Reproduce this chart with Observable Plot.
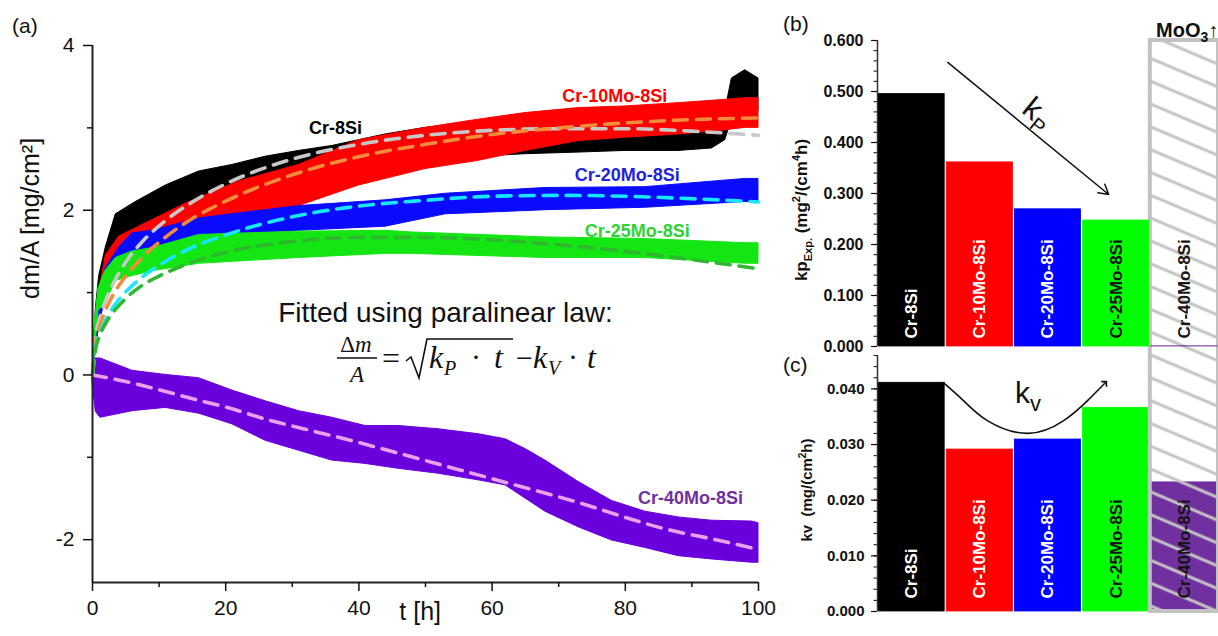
<!DOCTYPE html>
<html><head><meta charset="utf-8">
<script src="https://cdn.jsdelivr.net/npm/d3@7"></script>
<script src="https://cdn.jsdelivr.net/npm/@observablehq/plot@0.6"></script>
<style>
html,body{margin:0;padding:0;background:#fff;}
#wrap{position:relative;width:1218px;height:636px;overflow:hidden;background:#fff;}
#wrap svg{position:absolute;top:0;}
</style></head><body><div id="wrap"></div>
<script>
const FONT = '"Liberation Sans", Arimo, Arial, sans-serif';
const SERIF = '"Liberation Serif", "DejaVu Serif", serif';

// ---------- Panel (a): mass change vs time ----------
const timeTicks = [0, 20, 40, 60, 80, 100];
const timeMinor = [10, 30, 50, 70, 90];
const massTicks = [-2, 0, 2, 4];
const massMinor = [-1, 1, 3];
const massDomain = [-2.52, 4];

// measured curves: band of the noisy signal (lower / upper edge)
const tCr8Si  = [0, 0.5, 1, 2, 3.5, 6.5, 11, 16, 21, 26, 31, 36, 44, 50, 58, 65, 73, 80, 88, 93, 95, 96, 98, 100];
const loCr8Si = [0, 0.3, 0.7, 1.1, 1.45, 1.7, 1.9, 2.05, 2.2, 2.3, 2.4, 2.45, 2.55, 2.6, 2.65, 2.68, 2.7, 2.72, 2.72, 2.75, 2.85, 3.1, 3.2, 3.2];
const hiCr8Si = [0, 0.8, 1.2, 1.55, 1.95, 2.1, 2.3, 2.47, 2.55, 2.65, 2.72, 2.78, 2.92, 3.0, 3.05, 3.05, 3.05, 3.08, 3.1, 3.15, 3.2, 3.6, 3.7, 3.6];

const tCr10Mo  = [0, 0.5, 1, 2, 4, 9, 14, 22, 31, 40, 50, 58, 65, 73, 80, 88, 95, 98, 100];
const loCr10Mo = [0, 0.3, 0.6, 1.1, 1.35, 1.54, 1.72, 1.9, 2.05, 2.3, 2.5, 2.6, 2.72, 2.84, 2.88, 2.92, 2.97, 3.0, 3.0];
const hiCr10Mo = [0, 0.7, 1.0, 1.45, 1.68, 1.88, 2.08, 2.35, 2.55, 2.85, 3.0, 3.1, 3.18, 3.24, 3.26, 3.3, 3.34, 3.36, 3.36];

const tCr20Mo  = [0, 0.5, 1, 2, 4, 6, 9, 16, 31, 44, 53, 68, 83, 98, 100];
const loCr20Mo = [0, 0.3, 0.6, 0.95, 1.25, 1.4, 1.45, 1.58, 1.75, 1.8, 1.95, 2.0, 2.03, 2.1, 2.1];
const hiCr20Mo = [0, 0.7, 0.95, 1.3, 1.55, 1.72, 1.75, 1.9, 2.05, 2.12, 2.2, 2.27, 2.28, 2.38, 2.38];

const tCr25Mo  = [0, 0.3, 0.9, 1.9, 3.5, 6, 9, 16, 31, 44, 48, 68, 83, 98, 100];
const loCr25Mo = [0, 0.2, 0.78, 0.86, 1.14, 1.2, 1.26, 1.35, 1.42, 1.47, 1.47, 1.42, 1.42, 1.35, 1.35];
const hiCr25Mo = [0, 0.6, 1.05, 1.26, 1.42, 1.5, 1.54, 1.7, 1.74, 1.75, 1.73, 1.67, 1.65, 1.6, 1.6];

const tCr40Mo  = [0, 0.5, 1.2, 6, 11, 16, 21, 26, 31, 36, 41, 46, 52, 58, 62, 65, 68, 73, 78, 83, 88, 93, 99, 100];
const loCr40Mo = [-0.1, -0.45, -0.52, -0.44, -0.4, -0.47, -0.6, -0.8, -0.92, -1.04, -1.08, -1.14, -1.2, -1.28, -1.34, -1.5, -1.66, -1.85, -2.01, -2.1, -2.2, -2.24, -2.28, -2.28];
const hiCr40Mo = [0.1, 0.2, 0.2, 0.05, 0.0, -0.04, -0.19, -0.32, -0.44, -0.52, -0.62, -0.62, -0.66, -0.72, -0.78, -0.9, -1.04, -1.3, -1.53, -1.66, -1.73, -1.77, -1.78, -1.8];

// paralinear fits (dashed)
const fitT      = [0, 0.5, 1, 2, 3, 5, 7.5, 10, 15, 20, 30, 40, 50, 60, 70, 80, 90, 100];
const fitCr8Si  = [0, 0.48, 0.66, 0.91, 1.09, 1.37, 1.62, 1.81, 2.10, 2.32, 2.62, 2.80, 2.91, 2.97, 2.99, 2.99, 2.96, 2.91];
const fitCr10Mo = [0, 0.41, 0.57, 0.79, 0.96, 1.20, 1.43, 1.61, 1.90, 2.11, 2.43, 2.65, 2.80, 2.92, 3.00, 3.06, 3.10, 3.12];
const fitCr20Mo = [0, 0.35, 0.49, 0.67, 0.81, 1.01, 1.19, 1.33, 1.55, 1.70, 1.92, 2.05, 2.12, 2.17, 2.18, 2.17, 2.14, 2.10];
const fitCr25Mo = [0, 0.33, 0.46, 0.63, 0.75, 0.93, 1.09, 1.20, 1.37, 1.49, 1.62, 1.67, 1.67, 1.64, 1.58, 1.50, 1.40, 1.29];
const fitTCr40Mo = [0, 5, 10, 16, 20, 27, 30, 39, 45, 50, 55, 60, 65, 70, 75, 80, 87, 93, 100];
const fitCr40Mo  = [0, -0.08, -0.18, -0.31, -0.39, -0.56, -0.62, -0.80, -0.93, -1.04, -1.15, -1.26, -1.37, -1.48, -1.60, -1.73, -1.89, -1.99, -2.12];

// ---------- Panels (b), (c): rate constants ----------
const alloys = ["Cr-8Si", "Cr-10Mo-8Si", "Cr-20Mo-8Si", "Cr-25Mo-8Si", "Cr-40Mo-8Si"];
const kpExp  = [0.495, 0.361, 0.269, 0.247, 0.0004];
const kvExp  = [0.0411, 0.0291, 0.0309, 0.0366, 0.0232];
const kpTicks = [0, 0.1, 0.2, 0.3, 0.4, 0.5, 0.6];
const kvTicks = [0, 0.01, 0.02, 0.03, 0.04];
const kpDomain = [0, 0.6];
const kvDomain = [0, 0.046];
const barColors = ["#000000", "#ff0000", "#0000ff", "#00ff00", "#7030a0"];

const band = (t, lo, hi) => t.map((x, i) => ({t: x, lo: lo[i], hi: hi[i]}));
const series = (t, v) => t.map((x, i) => ({t: x, v: v[i]}));

function addT(svg, x, y, parts, o = {}) {
  const t = d3.select(svg).append("text")
    .attr("x", x).attr("y", y)
    .attr("font-family", o.family || FONT)
    .attr("font-size", o.size || 20)
    .attr("font-weight", o.weight || "normal")
    .attr("font-style", o.italic ? "italic" : "normal")
    .attr("fill", o.fill || "#111")
    .attr("text-anchor", o.anchor || "start");
  if (o.transform) t.attr("transform", o.transform);
  (typeof parts === "string" ? [[parts]] : parts).forEach(([s, a = {}]) => {
    const sp = t.append("tspan").text(s);
    for (const k in a) sp.attr(k, a[k]);
  });
  return t;
}

const areaOpts = c => ({x: "t", y1: "lo", y2: "hi", fill: c, stroke: c, strokeWidth: 1, curve: "linear"});
const fitOpts = c => ({x: "t", y: "v", stroke: c, strokeWidth: 3.6, strokeDasharray: "14 9", curve: "monotone-x"});
const lbl = (c) => ({fill: c, fontWeight: "bold", fontSize: 18});
const plainNum = d => String(d);

const pa = Plot.plot({
  width: 770, height: 636,
  marginLeft: 92, marginRight: 12, marginTop: 45, marginBottom: 54,
  x: {domain: [timeTicks[0], timeTicks[timeTicks.length - 1]]},
  y: {domain: massDomain},
  style: {fontFamily: FONT, fontSize: "20px", background: "transparent", overflow: "visible", color: "#111"},
  marks: [
    Plot.areaY(band(tCr40Mo, loCr40Mo, hiCr40Mo), areaOpts("#6a00dc")),
    Plot.areaY(band(tCr8Si, loCr8Si, hiCr8Si), areaOpts("#000000")),
    Plot.areaY(band(tCr10Mo, loCr10Mo, hiCr10Mo), areaOpts("#ff0000")),
    Plot.areaY(band(tCr20Mo, loCr20Mo, hiCr20Mo), areaOpts("#0a0aff")),
    Plot.areaY(band(tCr25Mo, loCr25Mo, hiCr25Mo), areaOpts("#14e614")),
    Plot.line(series(fitT, fitCr8Si), fitOpts("#c8c8c8")),
    Plot.line(series(fitT, fitCr10Mo), fitOpts("#f28c3c")),
    Plot.line(series(fitT, fitCr20Mo), fitOpts("#19e6ff")),
    Plot.line(series(fitT, fitCr25Mo), fitOpts("#2db82d")),
    Plot.line(series(fitTCr40Mo, fitCr40Mo), fitOpts("#e8a2ec")),
    Plot.ruleX([timeTicks[0]], {strokeWidth: 2, stroke: "#222"}),
    Plot.ruleY([massDomain[0]], {strokeWidth: 2, stroke: "#222"}),
    Plot.axisX({ticks: timeMinor, tickSize: 5, tickFormat: () => "", strokeWidth: 1.5, label: null}),
    Plot.axisX({ticks: timeTicks, tickSize: 9, tickPadding: 9, tickFormat: plainNum, strokeWidth: 1.5, label: null, fontSize: 21}),
    Plot.axisY({ticks: massMinor, tickSize: 5, tickFormat: () => "", strokeWidth: 1.5, label: null}),
    Plot.axisY({ticks: massTicks, tickSize: 9, tickPadding: 9, tickFormat: plainNum, strokeWidth: 1.5, label: null, fontSize: 21}),
    Plot.text(["Cr-8Si"], {x: 36.5, y: 2.99, ...lbl("#000000")}),
    Plot.text(["Cr-10Mo-8Si"], {x: 78.4, y: 3.39, ...lbl("#ff0000")}),
    Plot.text(["Cr-20Mo-8Si"], {x: 80.3, y: 2.42, ...lbl("#2222dd")}),
    Plot.text(["Cr-25Mo-8Si"], {x: 81.8, y: 1.74, ...lbl("#2ed42e")}),
    Plot.text(["Cr-40Mo-8Si"], {x: 89.8, y: -1.50, ...lbl("#7030a0")}),
    Plot.text(["Fitted using paralinear law:"], {x: 53, y: 0.75, fontSize: 28, fill: "#111"}),
    Plot.text(["t [h]"], {x: 49.2, frameAnchor: "bottom", dy: 37, fontSize: 25, fill: "#111"}),
    Plot.text(["dm/A [mg/cm²]"], {frameAnchor: "left", dx: -62, dy: -15, rotate: -90, fontSize: 25, fill: "#111"})
  ]
});
pa.style.left = "0px";

// equation
addT(pa, 356, 352, [["Δ"], ["m", {"font-style": "italic"}]], {family: SERIF, size: 23, anchor: "middle"});
d3.select(pa).append("line").attr("x1", 337).attr("x2", 377).attr("y1", 358).attr("y2", 358).attr("stroke", "#111").attr("stroke-width", 1.5);
addT(pa, 357, 382, "A", {family: SERIF, size: 23, italic: true, anchor: "middle"});
addT(pa, 382, 369, "=", {family: SERIF, size: 32});
d3.select(pa).append("path").attr("d", "M406,361 L411,357 L419,378 L427,339 L513,339").attr("fill", "none").attr("stroke", "#111").attr("stroke-width", 1.6);
addT(pa, 429, 368, "k", {family: SERIF, size: 32, italic: true});
addT(pa, 444, 375, "P", {family: SERIF, size: 20, italic: true});
addT(pa, 476, 367, "·", {family: SERIF, size: 30, anchor: "middle"});
addT(pa, 494, 368, "t", {family: SERIF, size: 32, italic: true});
addT(pa, 516, 368, "−", {family: SERIF, size: 30});
addT(pa, 533, 368, "k", {family: SERIF, size: 32, italic: true});
addT(pa, 548, 375, "V", {family: SERIF, size: 20, italic: true});
addT(pa, 573, 367, "·", {family: SERIF, size: 30, anchor: "middle"});
addT(pa, 587, 368, "t", {family: SERIF, size: 32, italic: true});
addT(pa, 12, 33, "(a)", {size: 21});

// ---------- bar panels ----------
const barData = alloys.map((a, i) => ({alloy: a, i, kp: kpExp[i], kv: kvExp[i]}));
const xBar = {domain: [-0.5, alloys.length - 0.5], axis: null};
const colorBar = {domain: alloys, range: barColors};
const barStyle = {fontFamily: FONT, fontSize: "16px", fontWeight: "bold", background: "transparent", overflow: "visible", color: "#111"};

function barLabels(dy) {
  return [
    Plot.text(barData.filter(d => d.i < 3), {x: "i", y: 0, text: "alloy", rotate: -90, textAnchor: "start", dy, fill: "white", fontSize: 17}),
    Plot.text(barData.filter(d => d.i >= 3), {x: "i", y: 0, text: "alloy", rotate: -90, textAnchor: "start", dy, fill: "#151515", fontSize: 17})
  ];
}

const pb = Plot.plot({
  width: 448, height: 636,
  marginLeft: 107, marginRight: 0, marginTop: 40, marginBottom: 290,
  x: xBar, y: {domain: kpDomain}, color: colorBar,
  style: barStyle,
  marks: [
    Plot.rect(barData, {x1: d => d.i - 0.5, x2: d => d.i + 0.5, y1: 0, y2: "kp", fill: "alloy", stroke: "alloy", strokeWidth: 0.8, insetLeft: 1, insetRight: 1}),
    ...barLabels(-8),
    Plot.ruleX([-0.5], {y1: kpDomain[0], y2: kpDomain[1], strokeWidth: 1.5, stroke: "#333"}),
    Plot.axisY({ticks: d3.range(0, 0.6001, 0.02), tickSize: 3.5, tickFormat: () => "", strokeWidth: 1, label: null}),
    Plot.axisY({ticks: kpTicks, tickSize: 6, tickPadding: 8, tickFormat: d3.format(".3f"), strokeWidth: 1.2, label: null, fontSize: 16}),
    Plot.arrow([{x1: 0.53, y1: 0.557, x2: 2.89, y2: 0.298}], {x1: "x1", y1: "y1", x2: "x2", y2: "y2", stroke: "#111", strokeWidth: 1.5, headLength: 11})
  ]
});
pb.style.left = "770px";

function makeC(boxTop) {
  const marks = [
    Plot.rect(barData, {x1: d => d.i - 0.5, x2: d => d.i + 0.5, y1: 0, y2: "kv", fill: "alloy", stroke: "alloy", strokeWidth: 0.8, insetLeft: 1, insetRight: 1})
  ];
  if (boxTop != null) {
    marks.push(Plot.rect([{a: alloys.length - 1}], {x1: d => d.a - 0.5, x2: d => d.a + 0.5, y1: 0, y2: boxTop, fill: "url(#hatch)", stroke: "#c2c2c2", strokeWidth: 4}));
  }
  marks.push(
    ...barLabels(-13),
    Plot.ruleX([-0.5], {y1: kvDomain[0], y2: kvDomain[1], strokeWidth: 1.5, stroke: "#333"}),
    Plot.axisY({ticks: d3.range(0, 0.0461, 0.002), tickSize: 3.5, tickFormat: () => "", strokeWidth: 1, label: null}),
    Plot.axisY({ticks: kvTicks, tickSize: 6, tickPadding: 7, tickFormat: d3.format(".3f"), strokeWidth: 1.2, label: null, fontSize: 15}),
    Plot.line([
      {x: 0.47, y: 0.0411}, {x: 0.76, y: 0.0379}, {x: 1.11, y: 0.0343}, {x: 1.70, y: 0.0320},
      {x: 2.23, y: 0.0343}, {x: 2.58, y: 0.0379}, {x: 2.84, y: 0.0411}
    ], {x: "x", y: "y", curve: "natural", stroke: "#111", strokeWidth: 1.6, markerEnd: "arrow"})
  );
  return Plot.plot({
    width: 448, height: 636,
    marginLeft: 107, marginRight: 0, marginTop: 355, marginBottom: 25,
    x: xBar, y: {domain: kvDomain}, color: colorBar,
    style: barStyle,
    marks
  });
}
const cTmp = makeC(null);
const ycs = cTmp.scale("y"), ybs = pb.scale("y");
const yC = d3.scaleLinear(ycs.domain, ycs.range);
const yB = d3.scaleLinear(ybs.domain, ybs.range);
const boxTop = yC.invert(yB(kpDomain[1]));
const pc = makeC(boxTop);
pc.style.left = "770px";
d3.select(pc).insert("defs", ":first-child").html(
  '<pattern id="hatch" patternUnits="userSpaceOnUse" width="40" height="21" patternTransform="rotate(23)">' +
  '<line x1="0" y1="10" x2="40" y2="10" stroke="#c4c4c4" stroke-width="3"/></pattern>');

// labels on bar panels
addT(pb, 13, 31, "(b)", {size: 21});
addT(pc, 13, 372, "(c)", {size: 21});
addT(pb, 0, 0, [["kp"], ["Exp.", {"font-size": 11, dy: 5}], [" (mg", {dy: -5}], ["2", {"font-size": 11, dy: -7}], ["/(cm", {dy: 7}], ["4", {"font-size": 11, dy: -7}], ["h)", {dy: 7}]],
  {size: 17, weight: "bold", anchor: "middle", transform: "translate(37,210) rotate(-90)"});
addT(pc, 0, 0, [["kv  (mg/(cm"], ["2", {"font-size": 10, dy: -6}], ["h)", {dy: 6}]],
  {size: 15, weight: "bold", anchor: "middle", transform: "translate(42,490) rotate(-90)"});
addT(pb, 386, 37, [["MoO"], ["3", {"font-size": 14, dy: 5}], ["↑", {dy: -5}]], {size: 20, weight: "bold"});
addT(pb, 0, 10, [["k"], ["P", {"font-size": 20, dy: 7}]], {size: 31, anchor: "middle", transform: "translate(268,113) rotate(39)"});
addT(pc, 245, 403, [["k"], ["v", {"font-size": 22, dy: 8}]], {size: 30});

const wrap = document.getElementById("wrap");
wrap.appendChild(pa);
wrap.appendChild(pc);
wrap.appendChild(pb);
</script></body></html>
